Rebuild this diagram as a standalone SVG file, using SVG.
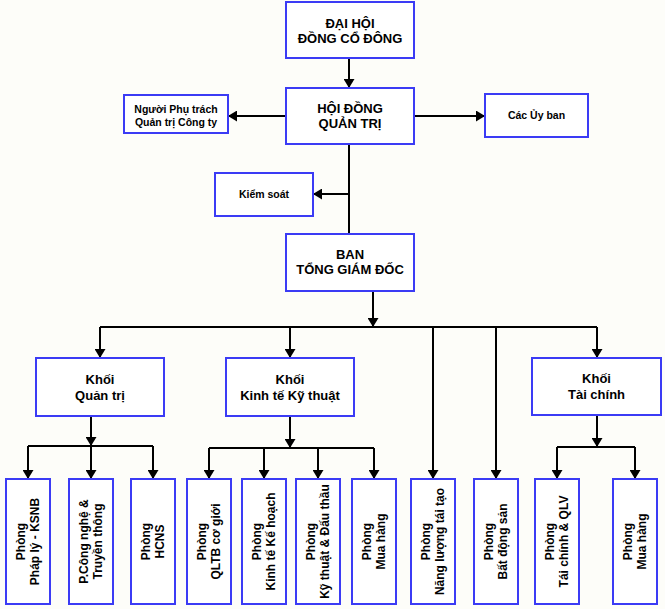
<svg xmlns="http://www.w3.org/2000/svg" width="665" height="609" viewBox="0 0 665 609">
<style>
.bg{fill:#fdfdf9}
.box{fill:#ffffff;stroke:#3b3bf5;stroke-width:2}
.t{font-family:"Liberation Sans",Arial,sans-serif;font-weight:bold;fill:#000;text-anchor:middle}
.t13{font-size:13px}
.t11{font-size:11px}
.t105{font-size:10.5px}
.t12{font-size:12px}
.ln{fill:none;stroke:#000;stroke-width:2}
.ar{fill:none;stroke:#000;stroke-width:2;marker-end:url(#ah)}
</style>
<defs>
<marker id="ah" markerUnits="userSpaceOnUse" markerWidth="10" markerHeight="11" refX="9" refY="5.5" orient="auto">
<path d="M0,0 L9,5.5 L0,11 z" fill="#000"/>
</marker>
</defs>
<rect class="bg" x="0" y="0" width="665" height="609"/>

<g id="connectors">
<path class="ar" d="M349,58 V88"/>
<path class="ar" d="M286,116 H228"/>
<path class="ar" d="M414,116 H485"/>
<path class="ln" d="M349,144 V234"/>
<path class="ar" d="M349,194 H313"/>
<path class="ar" d="M373,291 V327"/>
<path class="ln" d="M100,327 H597"/>
<path class="ar" d="M100,327 V358"/>
<path class="ar" d="M290,327 V358"/>
<path class="ar" d="M433,327 V479"/>
<path class="ar" d="M496,327 V479"/>
<path class="ar" d="M597,327 V358"/>
<path class="ar" d="M91,416 V446"/>
<path class="ln" d="M28,446 H153"/>
<path class="ar" d="M28,446 V479"/>
<path class="ar" d="M91,446 V479"/>
<path class="ar" d="M153,446 V479"/>
<path class="ar" d="M290,416 V448"/>
<path class="ln" d="M209,448 H374"/>
<path class="ar" d="M209,448 V479"/>
<path class="ar" d="M264,448 V479"/>
<path class="ar" d="M318,448 V479"/>
<path class="ar" d="M374,448 V479"/>
<path class="ar" d="M597,415 V447"/>
<path class="ln" d="M557,447 H635"/>
<path class="ar" d="M557,447 V479"/>
<path class="ar" d="M635,447 V479"/>
</g>

<g id="dhcd">
<rect class="box" x="286" y="2" width="128" height="56"/>
<text class="t t13" x="350" y="28">ĐẠI HỘI</text>
<text class="t t13" x="350" y="43">ĐỒNG CỔ ĐÔNG</text>
</g>
<g id="hdqt">
<rect class="box" x="286" y="88" width="128" height="56"/>
<text class="t t13" x="350" y="113">HỘI ĐỒNG</text>
<text class="t t13" x="350" y="128">QUẢN TRỊ</text>
</g>
<g id="nguoiphutrach">
<rect class="box" x="124" y="95" width="104" height="38"/>
<text class="t t105" x="176" y="113">Người Phụ trách</text>
<text class="t t105" x="176" y="126">Quản trị Công ty</text>
</g>
<g id="uyban">
<rect class="box" x="485" y="94" width="103" height="43"/>
<text class="t t105" x="536.5" y="119">Các Ủy ban</text>
</g>
<g id="kiemsoat">
<rect class="box" x="215" y="173" width="98" height="43"/>
<text class="t t105" x="264" y="198">Kiểm soát</text>
</g>
<g id="btgd">
<rect class="box" x="286" y="234" width="128" height="57"/>
<text class="t t13" x="350" y="259">BAN</text>
<text class="t t13" x="350" y="274">TỔNG GIÁM ĐỐC</text>
</g>
<g id="khoi-quantri">
<rect class="box" x="36" y="358" width="128" height="58"/>
<text class="t t13" x="100" y="384">Khối</text>
<text class="t t13" x="100" y="400">Quản trị</text>
</g>
<g id="khoi-kinhte">
<rect class="box" x="226" y="358" width="128" height="58"/>
<text class="t t13" x="290" y="384">Khối</text>
<text class="t t13" x="290" y="400">Kinh tế Kỹ thuật</text>
</g>
<g id="khoi-taichinh">
<rect class="box" x="532" y="358" width="129" height="57"/>
<text class="t t13" x="596.5" y="383">Khối</text>
<text class="t t13" x="596.5" y="399">Tài chính</text>
</g>

<g id="p-phaply">
<rect class="box" x="6" y="479" width="44" height="125"/>
<g transform="translate(28,541.5) rotate(-90)"><text class="t t12" x="0" y="-3.5">Phòng</text><text class="t t12" x="0" y="10.5">Pháp lý - KSNB</text></g>
</g>
<g id="p-congnghe">
<rect class="box" x="69" y="479" width="44" height="125"/>
<g transform="translate(91,541.5) rotate(-90)"><text class="t t12" x="0" y="-3.5">P.Công nghệ &amp;</text><text class="t t12" x="0" y="10.5">Truyền thông</text></g>
</g>
<g id="p-hcns">
<rect class="box" x="131" y="479" width="44" height="125"/>
<g transform="translate(153,541.5) rotate(-90)"><text class="t t12" x="0" y="-3.5">Phòng</text><text class="t t12" x="0" y="10.5">HCNS</text></g>
</g>
<g id="p-qltb">
<rect class="box" x="187" y="479" width="44" height="125"/>
<g transform="translate(209,541.5) rotate(-90)"><text class="t t12" x="0" y="-3.5">Phòng</text><text class="t t12" x="0" y="10.5">QLTB cơ giới</text></g>
</g>
<g id="p-kinhte">
<rect class="box" x="242" y="479" width="44" height="125"/>
<g transform="translate(264,541.5) rotate(-90)"><text class="t t12" x="0" y="-3.5">Phòng</text><text class="t t12" x="0" y="10.5">Kinh tế Kế hoạch</text></g>
</g>
<g id="p-kythuat">
<rect class="box" x="296" y="479" width="44" height="125"/>
<g transform="translate(318,541.5) rotate(-90)"><text class="t t12" x="0" y="-3.5">Phòng</text><text class="t t12" x="0" y="10.5">Kỹ thuật &amp; Đấu thầu</text></g>
</g>
<g id="p-muahang1">
<rect class="box" x="352" y="479" width="44" height="125"/>
<g transform="translate(374,541.5) rotate(-90)"><text class="t t12" x="0" y="-3.5">Phòng</text><text class="t t12" x="0" y="10.5">Mua hàng</text></g>
</g>
<g id="p-nangluong">
<rect class="box" x="411" y="479" width="44" height="125"/>
<g transform="translate(433,541.5) rotate(-90)"><text class="t t12" x="0" y="-3.5">Phòng</text><text class="t t12" x="0" y="10.5">Năng lượng tái tạo</text></g>
</g>
<g id="p-batdongsan">
<rect class="box" x="474" y="479" width="44" height="125"/>
<g transform="translate(496,541.5) rotate(-90)"><text class="t t12" x="0" y="-3.5">Phòng</text><text class="t t12" x="0" y="10.5">Bất động sản</text></g>
</g>
<g id="p-taichinh">
<rect class="box" x="535" y="479" width="44" height="125"/>
<g transform="translate(557,541.5) rotate(-90)"><text class="t t12" x="0" y="-3.5">Phòng</text><text class="t t12" x="0" y="10.5">Tái chính &amp; QLV</text></g>
</g>
<g id="p-muahang2">
<rect class="box" x="613" y="479" width="44" height="125"/>
<g transform="translate(635,541.5) rotate(-90)"><text class="t t12" x="0" y="-3.5">Phòng</text><text class="t t12" x="0" y="10.5">Mua hàng</text></g>
</g>
</svg>
